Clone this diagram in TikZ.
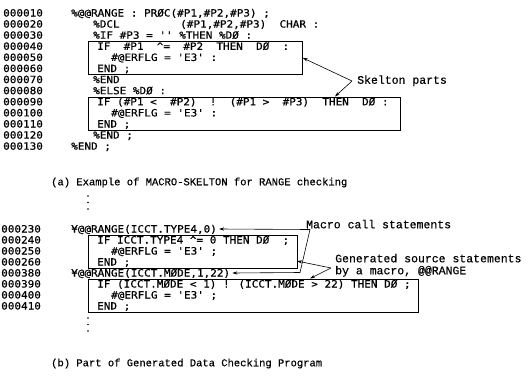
\documentclass[tikz,border=0pt]{standalone}
\usepackage{fontspec}
\usetikzlibrary{arrows.meta,calc}
\newfontfamily\codefont{DejaVu Sans Mono}[FakeStretch=1.1,FakeBold=0.5]
\newfontfamily\capfont{Liberation Mono}[FakeBold=0.4]
\newcommand\apo{\char"0027\relax}
\newcommand\noteq{\textasciicircum=}
\begin{document}
\begin{tikzpicture}[x=1pt,y=-1pt,
  code/.style={font=\codefont\fontsize{10}{12}\selectfont, inner sep=0pt, anchor=west, text height=7pt, text depth=0pt},
  lbl/.style={font=\capfont\fontsize{11.5}{13}\selectfont, inner sep=0pt, anchor=west, text height=6.5pt, text depth=0pt},
  captext/.style={font=\capfont\fontsize{10.5}{12}\selectfont, inner sep=0pt, anchor=west, text height=6.5pt, text depth=0pt},
  part/.style={draw, line width=0.8pt, inner sep=0pt, anchor=north west},
  ptr/.style={line width=0.6pt, -{Stealth[length=5pt,width=3.2pt]}}]
\useasboundingbox (0,0) rectangle (529,388);
\fill[white] (0,0) rectangle (529,388);

% ---------- (a) macro skeleton ----------
\foreach \n/\y in {000010/13,000020/24.1,000030/35.2,000040/46.3,000050/57.4,000060/68.5,000070/79.6,000080/90.7,000090/101.8,000100/112.9,000110/124,000120/135.1,000130/146.2}
  \node[code] (ln\n) at (3,\y) {\n};

\node[part, minimum width=214pt, minimum height=33pt] (box1) at (88,41) {};
\node[part, minimum width=312pt, minimum height=33pt] (box2) at (88,96.5) {};

\node[code] (a1)  at (71,13)    {\%@@RANGE : PRØC(\#P1,\#P2,\#P3) ;};
\node[code] (a2)  at (93,24.1)  {\%DCL};
\node[code] (a2b) at (180,24.1) {(\#P1,\#P2,\#P3)\ \ CHAR :};
\node[code] (a3)  at (93,35.2)  {\%IF \#P3 = \apo\apo{} \%THEN \%DØ :};
\node[code] (a4)  at (97,46.3)  {IF\ \ \#P1\ \ \noteq{}\ \ \#P2\ \ THEN\ \ DØ\ \ :};
\node[code] (a5)  at (111,57.4) {\#@ERFLG = \apo E3\apo{} :};
\node[code] (a6)  at (97,68.5)  {END ;};
\node[code] (a7)  at (93,79.6)  {\%END};
\node[code] (a8)  at (93,90.7)  {\%ELSE \%DØ :};
\node[code] (a9)  at (97,101.8) {IF (\#P1 <\ \ \#P2)\ \ !\ \ (\#P1 >\ \ \#P3)\ \ THEN\ \ DØ :};
\node[code] (a10) at (111,112.9){\#@ERFLG = \apo E3\apo{} :};
\node[code] (a11) at (97,124)   {END ;};
\node[code] (a12) at (93,135.1) {\%END ;};
\node[code] (a13) at (71,146.2) {\%END ;};

\node[lbl] (skel) at (357,80.5) {Skelton parts};
\coordinate (sk) at (352,81);
\coordinate (b2top) at (335,96.5);
\draw[ptr] (sk) -- (box1.east);
\draw[ptr] (sk) -- (b2top);

\node[captext] (capa) at (51,182) {(a) Example of MACRO-SKELTON for RANGE checking};

\foreach \y in {196,202.5,209} \fill (88,\y) circle (0.9);

% ---------- (b) generated program ----------
\foreach \n/\y in {000230/229,000240/240,000250/251,000260/262,000380/273,000390/284,000400/295,000410/306}
  \node[code] (ln\n) at (1,\y) {\n};

\node[part, minimum width=209pt, minimum height=33pt] (box3) at (88,234.5) {};
\node[part, minimum width=330pt, minimum height=33pt] (box4) at (88,278.5) {};

\node[code] (b1) at (71,229)  {¥@@RANGE(ICCT.TYPE4,0)};
\node[code] (b2) at (97,240)  {IF ICCT.TYPE4 \noteq{} 0 THEN DØ\ \ ;};
\node[code] (b3) at (111,251) {\#@ERFLG = \apo E3\apo{} ;};
\node[code] (b4) at (97,262)  {END ;};
\node[code] (b5) at (71,273)  {¥@@RANGE(ICCT.MØDE,1,22)};
\node[code] (b6) at (97,284)  {IF (ICCT.MØDE < 1) ! (ICCT.MØDE > 22) THEN DØ ;};
\node[code] (b7) at (111,295) {\#@ERFLG = \apo E3\apo{} ;};
\node[code] (b8) at (97,306)  {END ;};

\foreach \y in {318,324.5,331} \fill (88,\y) circle (0.9);

\node[lbl] (mcall) at (306,225) {Macro call statements};
\node[lbl] (gen1)  at (335,259) {Generated source statements};
\node[lbl] (gen2)  at (335,271) {by a macro, @@RANGE};

% macro-call pointers: shared corner under the label, second one bends beside the box
\coordinate (mc) at (310,229.5);
\coordinate (mcbend) at (300,272.5);
\draw[ptr] (mc) -- ([xshift=2pt]b1.east);
\draw[ptr] (mc) -- (mcbend) -- ([xshift=2pt]b5.east);

% generated-code pointers
\coordinate (gp) at (331,268);
\coordinate (b3edge) at (297,261);
\coordinate (b4top) at (310,278.5);
\draw[ptr] (gp) -- (b3edge);
\draw[ptr] (gp) -- (b4top);

\node[captext] (capb) at (51,363) {(b) Part of Generated Data Checking Program};
\end{tikzpicture}
\end{document}
